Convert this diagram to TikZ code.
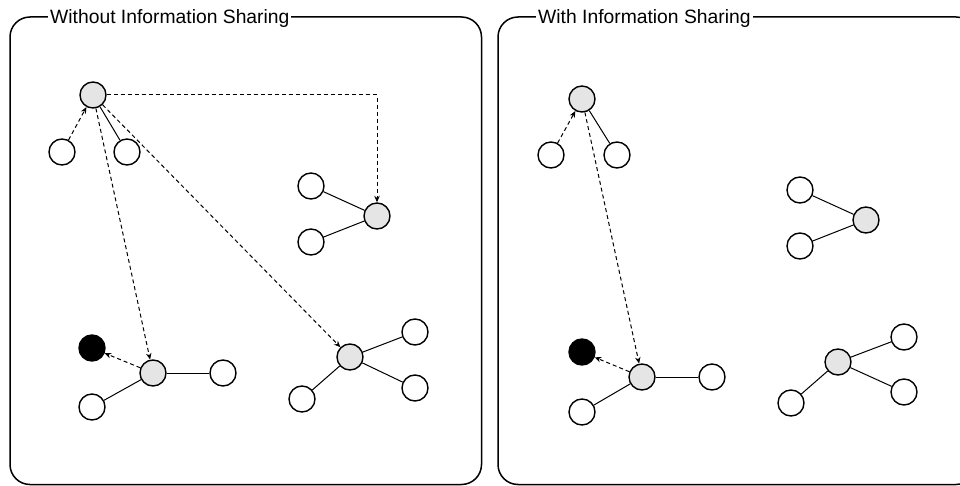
\documentclass[tikz,border=0pt]{standalone}
\usepackage{fontspec}
\setmainfont{Liberation Sans}
\usetikzlibrary{arrows.meta}
\begin{document}
\begin{tikzpicture}[x=1pt,y=-1pt,
  agent/.style={circle,draw,line width=1.4pt,minimum size=26pt,inner sep=0pt,fill=white},
  leader/.style={agent,fill=black!10},
  target/.style={agent,fill=black},
  link/.style={line width=1pt},
  msg/.style={line width=1pt,dash pattern=on 4pt off 3pt,
              -{Stealth[length=6.5pt,width=5.5pt]}},
  panel/.style={line width=1.5pt,rounded corners=20pt},
  paneltitle/.style={fill=white,inner xsep=2pt,inner ysep=1pt,
                     font=\fontsize{19.3}{22}\selectfont,anchor=base west}
]
\useasboundingbox (0,0) rectangle (960,486);
\clip (0,0) rectangle (960,486);

% ---------- panel frames ----------
\draw[panel] (10,17) rectangle (481.5,484.5);
\draw[panel] (498,17) rectangle (976,484.5);
\node[paneltitle] (tl) at (48,23.5) {Without Information Sharing};
\node[paneltitle] (tr) at (536,23.5) {With Information Sharing};

% ---------- left panel: agents ----------
\node[leader] (a)  at (93,95)  {};
\node[agent]  (a1) at (62,152) {};
\node[agent]  (a2) at (127,152) {};

\node[leader] (b)  at (377,216) {};
\node[agent]  (b1) at (311,186) {};
\node[agent]  (b2) at (311,242) {};

\node[leader] (c)  at (153,373) {};
\node[target] (cb) at (92,348)  {};
\node[agent]  (c1) at (92,407)  {};
\node[agent]  (c2) at (223,373) {};

\node[leader] (d)  at (350,357) {};
\node[agent]  (d1) at (415,332) {};
\node[agent]  (d2) at (415,388) {};
\node[agent]  (d3) at (302,399) {};

% ---------- left panel: links ----------
\draw[link] (a) -- (a2);
\draw[link] (b) -- (b1);
\draw[link] (b) -- (b2);
\draw[link] (c) -- (c1);
\draw[link] (c) -- (c2);
\draw[link] (d) -- (d1);
\draw[link] (d) -- (d2);
\draw[link] (d) -- (d3);

\draw[msg] (a1) -- (a);
\draw[msg] (a) -- (c);
\draw[msg] (a) -- (d);
\draw[msg] (a.east) -| (b.north);
\draw[msg] (c) -- (cb);

% ---------- right panel: agents ----------
\node[leader] (ra)  at (582,99)  {};
\node[agent]  (ra1) at (551,155) {};
\node[agent]  (ra2) at (617,155) {};

\node[leader] (rb)  at (866,220) {};
\node[agent]  (rb1) at (800,190) {};
\node[agent]  (rb2) at (800,246) {};

\node[leader] (rc)  at (642,377) {};
\node[target] (rcb) at (582,352) {};
\node[agent]  (rc1) at (582,412) {};
\node[agent]  (rc2) at (712,377) {};

\node[leader] (rd)  at (838,362) {};
\node[agent]  (rd1) at (904,337) {};
\node[agent]  (rd2) at (904,392) {};
\node[agent]  (rd3) at (791,403) {};

% ---------- right panel: links ----------
\draw[link] (ra) -- (ra2);
\draw[link] (rb) -- (rb1);
\draw[link] (rb) -- (rb2);
\draw[link] (rc) -- (rc1);
\draw[link] (rc) -- (rc2);
\draw[link] (rd) -- (rd1);
\draw[link] (rd) -- (rd2);
\draw[link] (rd) -- (rd3);

\draw[msg] (ra1) -- (ra);
\draw[msg] (ra) -- (rc);
\draw[msg] (rc) -- (rcb);
\end{tikzpicture}
\end{document}
